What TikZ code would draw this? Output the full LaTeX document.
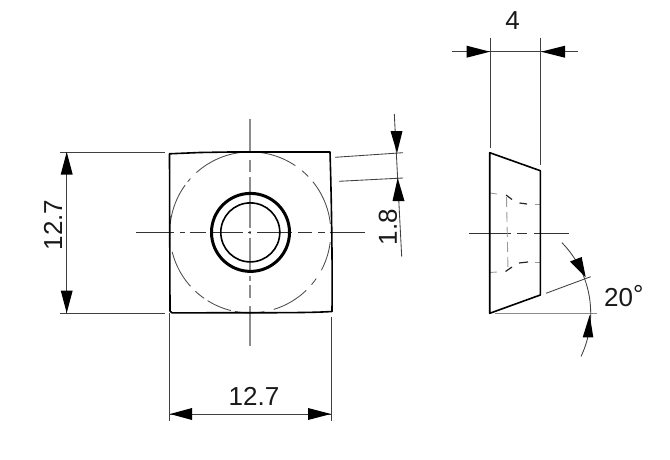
\documentclass[tikz,border=0pt]{standalone}
\usepackage{fontspec}
\setmainfont{Liberation Sans}
\tikzset{
  outline/.style={line width=1.6pt,black,line join=round},
  thin line/.style={line width=0.85pt,black!75},
  axis h/.style={line width=0.9pt,black!80},
  axis v/.style={line width=1.2pt,black!45},
  hidden light/.style={line width=0.9pt,black!40},
  hidden dark/.style={line width=1.2pt,black!85},
  circle dash/.style={line width=0.85pt,black!70},
  tip/.style={fill=black,draw=none},
  dimtext/.style={font=\fontsize{26}{26}\selectfont,text=black!90,inner sep=0pt}
}
\begin{document}
\begin{tikzpicture}[x=1pt,y=-1pt]
\useasboundingbox (0,0) rectangle (670,460);
\fill[white] (0,0) rectangle (670,460);
% front view: center lines
\foreach \a/\b in {119/153,160/172,177/228,231/234,238/272,276/281,285/298,306/346}
  \draw[axis v] (250,\a)--(250,\b);
\foreach \a/\b in {136/174,180/185,190/206,210/243,248/251,257/292,298/312,318/325,330/365}
  \draw[axis h] (\a,232.3)--(\b,232.3);
% dashed circle
\foreach \a/\b in {-132/-56,-50/-44,-39/-6,7/28,35/40.5,46/73,80/101,104/122,125/133,138/166,186/216,219/222}
  \draw[circle dash] plot[smooth,domain=\a:\b,samples=24] ({250.3+80.5*cos(\x)},{232.4+80.5*sin(\x)});
% outline
\draw[outline] (169.5,153.8) -- (200,152.5) -- (230,152) -- (330,152)
  .. controls (331.5,200) and (332.5,260) .. (332,311.5)
  .. controls (310,312.8) and (290,312.8) .. (172,312.8) -- (170,311) -- cycle;
% rings
\draw[line width=3pt,black] (250.5,232.4) circle[radius=39];
\draw[line width=1.6pt,black] (250.3,232.4) circle[radius=29.5];
% left dim
\draw[thin line] (59.5,152)--(165,152);
\draw[thin line] (59.5,313)--(165,313);
\draw[thin line] (66.7,152)--(66.7,313);
\fill[tip] (66.7,152)--(60.7,174.5)--(72.7,174.5)--cycle;
\fill[tip] (66.7,313)--(60.7,290.5)--(72.7,290.5)--cycle;
\node[dimtext,rotate=90] (lefttext) at (53,225) {12.7};
% bottom dim
\draw[thin line] (169.5,313)--(169.5,421);
\draw[thin line] (331.5,317)--(331.5,421);
\draw[thin line] (170,414)--(331,414);
\fill[tip] (170,414)--(192,408)--(192,420)--cycle;
\fill[tip] (331,414)--(308,408)--(308,420)--cycle;
\node[dimtext] (bottomtext) at (254,396) {12.7};
% 1.8 dim
\draw[thin line] (335,157.3)--(403,152.7);
\draw[thin line] (339,181.3)--(403,178);
\draw[thin line] (394.3,114)--(401.7,256.7);
\fill[tip] (397,153)--(390.5,131)--(402.5,131)--cycle;
\fill[tip] (397.7,178)--(392.5,201)--(404.5,201)--cycle;
\node[dimtext,rotate=90] (smalltext) at (388,227) {1.8};
% side view
\foreach \a/\b in {469/511,517/527,534/569}
  \draw[axis h] (\a,233.3)--(\b,233.3);
\draw[hidden light] (489.7,193)--(497,194);
\draw[hidden dark] (506,195)--(512,199.5);
\draw[hidden dark] (519.5,203)--(527,204);
\draw[hidden light] (535,204)--(540,204);
\draw[hidden light] (489.7,272.5)--(497,272);
\draw[hidden dark] (505.5,271.5)--(512,267);
\draw[hidden dark] (519,263)--(528,262);
\draw[hidden light] (535,262)--(540,262);
\draw[hidden light,dash pattern=on 10pt off 5pt] (506.5,197)--(508,270);
\draw[outline] (489.7,152.7)--(540.3,170.7)--(540.3,295)--(489.7,313.3)--cycle;
% top dim
\draw[thin line] (490,38)--(490,148);
\draw[thin line] (540.3,38)--(540.3,165);
\draw[thin line] (451.7,51.7)--(578,51.7);
\fill[tip] (490,51.7)--(466.7,45.7)--(466.7,57.7)--cycle;
\fill[tip] (541,51.7)--(565,45.7)--(565,57.7)--cycle;
\node[dimtext] (toptext) at (512.7,21) {4};
% angle dim
\draw[thin line] (546,293.3)--(590.7,276.7);
\draw[line width=1.2pt,black!45] (495,313.7)--(596.7,313.7);
\draw[thin line] plot[smooth,domain=-44.4:25.3,samples=40] ({489.7+101*cos(\x)},{313.3+101*sin(\x)});
\fill[tip] (585.7,277.3)--(570,261.5)--(581.7,257)--cycle;
\fill[tip] (589.7,315)--(582.7,337.3)--(593.3,337.3)--cycle;
\node[dimtext,anchor=west] (angletext) at (604,296) {20\raisebox{3pt}{°}};
\end{tikzpicture}
\end{document}
